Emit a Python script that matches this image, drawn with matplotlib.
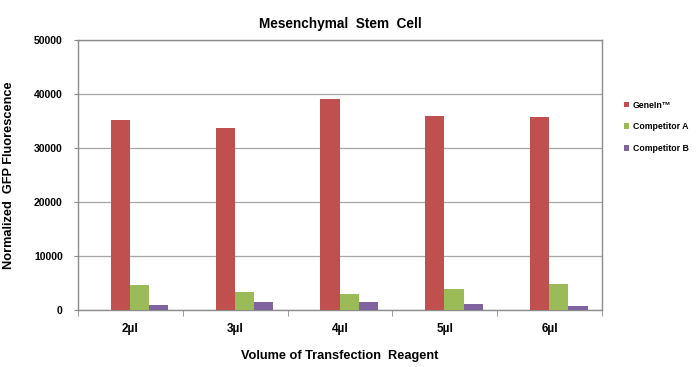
import numpy as np
import matplotlib.pyplot as plt

plt.rcParams['font.family'] = ['Liberation Sans', 'DejaVu Sans']
plt.rcParams['font.weight'] = 'bold'

categories = ["2µl", "3µl", "4µl", "5µl", "6µl"]
genein = [35200, 33700, 39100, 35900, 35700]
competitor_a = [4600, 3300, 3000, 3900, 4900]
competitor_b = [900, 1500, 1500, 1200, 800]
series_names = ["GeneIn™", "Competitor A", "Competitor B"]
colors = ["#C0504D", "#9BBB59", "#8064A2"]

fig = plt.figure(figsize=(7, 3.67), dpi=100)
ax = fig.add_axes([0.1114, 0.1553, 0.7486, 0.7357])

x = np.arange(len(categories))
w = 0.183
offsets = [-0.095, 0.088, 0.271]
for vals, off, c, name in zip([genein, competitor_a, competitor_b], offsets, colors, series_names):
    ax.bar(x + off, vals, width=w, color=c, label=name, zorder=3)

ax.set_xlim(-0.5, len(categories) - 0.5)
ax.set_ylim(0, 50000)
ax.set_yticks(np.arange(0, 50001, 10000))
ax.yaxis.grid(True, color="#a6a6a6", linewidth=0.9, zorder=0)
ax.set_xticks(x)
ax.set_xticklabels(categories, fontsize=8.5, fontweight='bold')
ax.set_xticks(np.arange(-0.5, len(categories), 1), minor=True)
ax.tick_params(axis='x', which='major', length=0, pad=9)
ax.tick_params(axis='x', which='minor', length=4, color="#888888", direction='out')
ax.tick_params(axis='y', length=3, color="#888888", labelsize=7.5, pad=8)
for lab in ax.get_yticklabels():
    lab.set_fontweight('bold')
for s in ax.spines.values():
    s.set_color("#8c8c8c")
    s.set_linewidth(1.0)

ax.set_title("Mesenchymal  Stem  Cell", fontsize=9.8, fontweight='bold', pad=9)
ax.set_xlabel("Volume of Transfection  Reagent", fontsize=9.2, fontweight='bold', labelpad=11)
ax.set_ylabel("Normalized  GFP Fluorescence", fontsize=9.2, fontweight='bold', labelpad=14)

leg = fig.legend(loc='upper left', bbox_to_anchor=(0.881, 0.745), frameon=False,
                 fontsize=6.3, handlelength=0.6, handleheight=0.6, handletextpad=0.45,
                 labelspacing=1.45, borderpad=0.3)
for t in leg.get_texts():
    t.set_fontweight('bold')

fig.savefig("out.png", dpi=100)
